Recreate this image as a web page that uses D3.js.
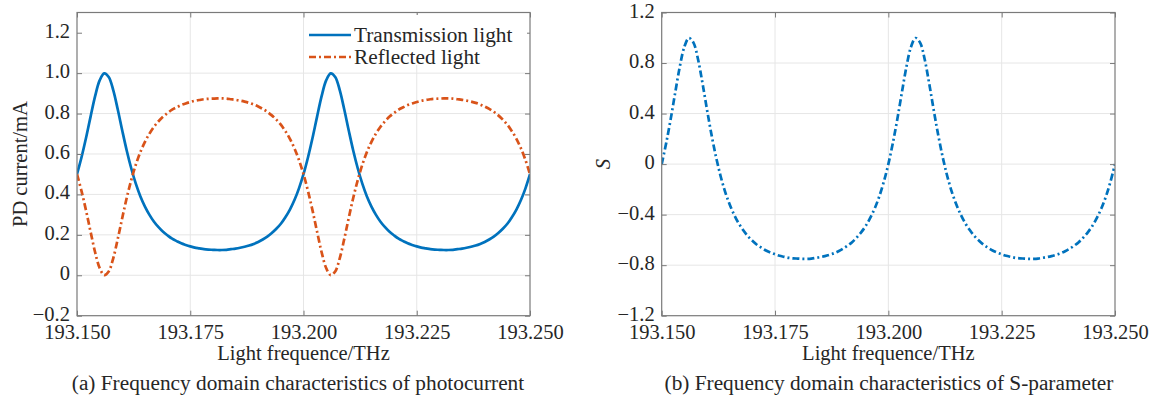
<!DOCTYPE html>
<html lang="en">
<head>
  <meta charset="utf-8">
  <title>Frequency domain characteristics</title>
  <script src="https://cdn.jsdelivr.net/npm/d3@7/dist/d3.min.js"></script>
  <style>
    html, body { margin: 0; padding: 0; background: #fff; }
    svg text { font-family: "Liberation Serif", "Times New Roman", serif; fill: #262626; }
  </style>
</head>
<body>
<svg id="chart" width="1157" height="395"></svg>
<script>
  // ---- data (1 GHz sampling) ----
  const frequency = d3.range(101).map(i => +(193.150 + i * 0.001).toFixed(3));

  const transmission = [
    0.500,0.584,0.680,0.785,0.886,0.964,0.999,0.981,0.916,0.820,
    0.715,0.615,0.527,0.452,0.390,0.340,0.299,0.265,0.238,0.215,
    0.197,0.181,0.169,0.158,0.150,0.143,0.137,0.133,0.129,0.127,
    0.126,0.125,0.125,0.126,0.129,0.132,0.136,0.141,0.147,0.155,
    0.165,0.177,0.191,0.209,0.230,0.255,0.287,0.325,0.372,0.430,
    0.500,0.584,0.680,0.785,0.886,0.964,0.999,0.981,0.916,0.820,
    0.715,0.615,0.527,0.452,0.390,0.340,0.299,0.265,0.238,0.215,
    0.197,0.181,0.169,0.158,0.150,0.143,0.137,0.133,0.129,0.127,
    0.126,0.125,0.125,0.126,0.129,0.132,0.136,0.141,0.147,0.155,
    0.165,0.177,0.191,0.209,0.230,0.255,0.287,0.325,0.372,0.430,
    0.500
  ];

  const reflected = [
    0.500,0.416,0.320,0.215,0.114,0.036,0.001,0.019,0.084,0.180,
    0.285,0.385,0.473,0.548,0.610,0.660,0.701,0.735,0.762,0.785,
    0.803,0.819,0.831,0.842,0.850,0.857,0.863,0.867,0.871,0.873,
    0.874,0.875,0.875,0.874,0.871,0.868,0.864,0.859,0.853,0.845,
    0.835,0.823,0.809,0.791,0.770,0.745,0.713,0.675,0.628,0.570,
    0.500,0.416,0.320,0.215,0.114,0.036,0.001,0.019,0.084,0.180,
    0.285,0.385,0.473,0.548,0.610,0.660,0.701,0.735,0.762,0.785,
    0.803,0.819,0.831,0.842,0.850,0.857,0.863,0.867,0.871,0.873,
    0.874,0.875,0.875,0.874,0.871,0.868,0.864,0.859,0.853,0.845,
    0.835,0.823,0.809,0.791,0.770,0.745,0.713,0.675,0.628,0.570,
    0.500
  ];

  const sParameter = [
    0.000,0.168,0.360,0.570,0.772,0.928,0.998,0.962,0.832,0.640,
    0.430,0.230,0.054,-0.096,-0.220,-0.320,-0.402,-0.470,-0.524,-0.570,
    -0.606,-0.638,-0.662,-0.684,-0.700,-0.714,-0.726,-0.734,-0.742,-0.746,
    -0.748,-0.750,-0.750,-0.748,-0.742,-0.736,-0.728,-0.718,-0.706,-0.690,
    -0.670,-0.646,-0.618,-0.582,-0.540,-0.490,-0.426,-0.350,-0.256,-0.140,
    0.000,0.168,0.360,0.570,0.772,0.928,0.998,0.962,0.832,0.640,
    0.430,0.230,0.054,-0.096,-0.220,-0.320,-0.402,-0.470,-0.524,-0.570,
    -0.606,-0.638,-0.662,-0.684,-0.700,-0.714,-0.726,-0.734,-0.742,-0.746,
    -0.748,-0.750,-0.750,-0.748,-0.742,-0.736,-0.728,-0.718,-0.706,-0.690,
    -0.670,-0.646,-0.618,-0.582,-0.540,-0.490,-0.426,-0.350,-0.256,-0.140,
    0.000
  ];

  const xTicks  = [193.150, 193.175, 193.200, 193.225, 193.250];
  const yTicksA = [-0.2, 0, 0.2, 0.4, 0.6, 0.8, 1.0, 1.2];
  const yTicksB = [-1.2, -0.8, -0.4, 0, 0.4, 0.8, 1.2];
  const legendLabels = ["Transmission light", "Reflected light"];

  // ---- drawing ----
  const svg = d3.select("#chart");
  const BLUE = "#0072BD", ORANGE = "#D95319";
  const plotTop = 12.5, plotBottom = 315.7;
  const FS = 20.5;

  const fmtY = d => d === 0 ? "0" : d3.format(".1f")(d);

  function panel(id, o) {
    const x = d3.scaleLinear().domain([193.150, 193.250]).range([o.left, o.right]);
    const y = d3.scaleLinear().domain(o.yDomain).range([plotBottom, plotTop]);
    const g = svg.append("g");

    // grid
    g.append("g").selectAll("line").data(xTicks.slice(1, -1)).join("line")
      .attr("x1", d => x(d)).attr("x2", d => x(d)).attr("y1", plotTop).attr("y2", plotBottom)
      .attr("stroke", "#e6e6e6").attr("stroke-width", 1);
    g.append("g").selectAll("line").data(o.yTicks.slice(1, -1)).join("line")
      .attr("x1", o.left).attr("x2", o.right).attr("y1", d => y(d)).attr("y2", d => y(d))
      .attr("stroke", "#e6e6e6").attr("stroke-width", 1);

    // curves
    g.append("clipPath").attr("id", id).append("rect")
      .attr("x", o.left).attr("y", plotTop).attr("width", o.right - o.left).attr("height", plotBottom - plotTop);
    const line = d3.line().x((d, i) => x(frequency[i])).y(d => y(d))
      .curve(d3.curveCatmullRom.alpha(0.5));
    o.series.forEach(s => {
      g.append("path").datum(s.values)
        .attr("clip-path", `url(#${id})`)
        .attr("fill", "none").attr("stroke", s.color).attr("stroke-width", 2.7)
        .attr("stroke-dasharray", s.dash || null)
        .attr("d", line);
    });

    // axes (ticks pointing inward on all four sides)
    const styleAxis = sel => {
      sel.attr("font-family", null).attr("font-size", null);
      sel.select(".domain").remove();
      sel.selectAll(".tick line").attr("stroke", "#7a7a7a");
      sel.selectAll(".tick text").attr("font-size", FS).attr("fill", "#262626");
    };
    g.append("g").attr("transform", `translate(0,${plotBottom})`)
      .call(d3.axisBottom(x).tickValues(xTicks).tickFormat(d3.format(".3f")).tickSize(-5).tickPadding(9))
      .call(styleAxis);
    g.append("g").attr("transform", `translate(0,${plotTop})`)
      .call(d3.axisTop(x).tickValues(xTicks).tickFormat("").tickSize(-5))
      .call(styleAxis);
    g.append("g").attr("transform", `translate(${o.left},0)`)
      .call(d3.axisLeft(y).tickValues(o.yTicks).tickFormat(fmtY).tickSize(-5).tickPadding(7))
      .call(styleAxis)
      .call(sel => sel.selectAll(".tick text").attr("dy", "0.22em"));
    g.append("g").attr("transform", `translate(${o.right},0)`)
      .call(d3.axisRight(y).tickValues(o.yTicks).tickFormat("").tickSize(-5))
      .call(styleAxis);

    g.append("rect").attr("x", o.left).attr("y", plotTop)
      .attr("width", o.right - o.left).attr("height", plotBottom - plotTop)
      .attr("fill", "none").attr("stroke", "#7a7a7a").attr("stroke-width", 1.2);

    // labels
    const cx = (o.left + o.right) / 2;
    g.append("text").attr("x", cx).attr("y", 360).attr("text-anchor", "middle")
      .attr("font-size", FS).text("Light frequence/THz");
    g.append("text").attr("x", o.captionX).attr("y", 390).attr("text-anchor", "middle")
      .attr("font-size", 21.3).text(o.caption);
    g.append("text")
      .attr("transform", `translate(${o.ylabelX},${(plotTop + plotBottom) / 2}) rotate(-90)`)
      .attr("text-anchor", "middle").attr("font-size", FS)
      .attr("font-style", o.italic ? "italic" : null)
      .text(o.ylabel);
    return {g, x, y};
  }

  const a = panel("clipA", {
    left: 77, right: 530, yDomain: [-0.2, 1.3], yTicks: yTicksA,
    series: [
      {values: transmission, color: BLUE},
      {values: reflected, color: ORANGE, dash: "7,3,2,3"}
    ],
    ylabel: "PD current/mA", ylabelX: 27,
    caption: "(a) Frequency domain characteristics of photocurrent", captionX: 298
  });

  panel("clipB", {
    left: 661.7, right: 1115, yDomain: [-1.2, 1.2], yTicks: yTicksB,
    series: [{values: sParameter, color: BLUE, dash: "7,3,2,3"}],
    ylabel: "S", italic: true, ylabelX: 610,
    caption: "(b) Frequency domain characteristics of S-parameter", captionX: 889
  });

  // legend (white box, no border)
  const leg = a.g.append("g");
  leg.append("rect").attr("x", 305).attr("y", 15).attr("width", 222).attr("height", 50).attr("fill", "#fff");
  legendLabels.forEach((t, i) => {
    const yy = 35 + i * 22;
    leg.append("line").attr("x1", 309).attr("x2", 351).attr("y1", yy).attr("y2", yy)
      .attr("stroke", i === 0 ? BLUE : ORANGE).attr("stroke-width", 2.7)
      .attr("stroke-dasharray", i === 0 ? null : "7,3,2,3");
    leg.append("text").attr("x", 354).attr("y", yy).attr("dy", "0.35em")
      .attr("font-size", 21.3).text(t);
  });
</script>
</body>
</html>
